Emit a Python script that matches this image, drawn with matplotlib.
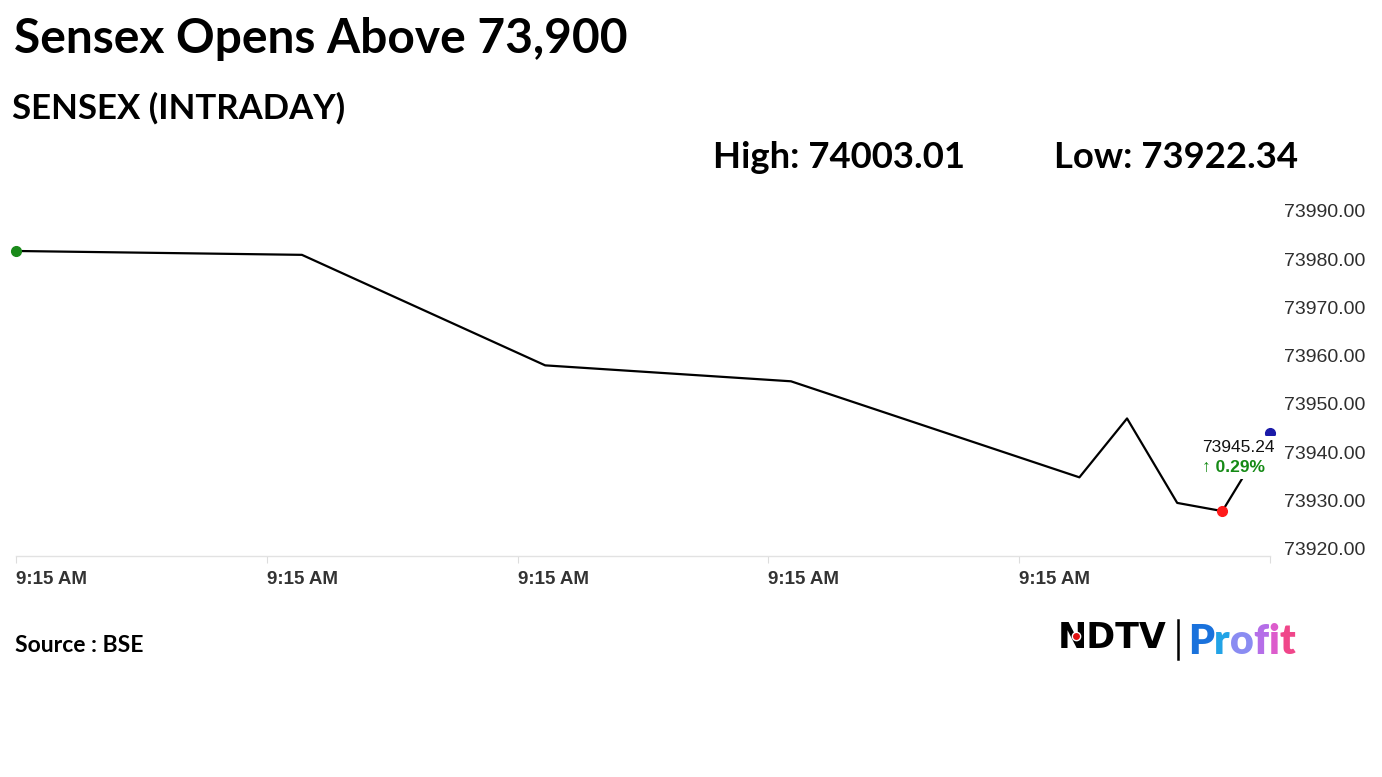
import matplotlib.pyplot as plt
from matplotlib.lines import Line2D

# Intraday Sensex ticks (seconds after 9:15 AM) and index values
seconds = [0, 11.4, 21.1, 30.9, 42.4, 44.3, 46.3, 48.1, 50.0]
sensex = [73981.7, 73980.9, 73958.0, 73954.7, 73934.8, 73947.0, 73929.5, 73927.8, 73944.0]

tick_seconds = [0, 10, 20, 30, 40, 50]
tick_labels = ["9:15 AM", "9:15 AM", "9:15 AM", "9:15 AM", "9:15 AM", ""]
y_ticks = [73920, 73930, 73940, 73950, 73960, 73970, 73980, 73990]

day_high = "74003.01"
day_low = "73922.34"
last_price = "73945.24"
last_change = "0.29%"

W, H = 1382, 777


def fx(px):
    return px / W


def fy(py):
    return 1 - py / H


fig = plt.figure(figsize=(W / 100, H / 100), dpi=100)
fig.patch.set_facecolor("white")

# Plot area in pixels: left 16, right 1270, top 195, bottom 556
ax = fig.add_axes([fx(16), fy(556), fx(1270) - fx(16), fy(195) - fy(556)])
ax.set_xlim(0, 50)
ax.set_ylim(73918.5, 73993.3)

ax.plot(seconds, sensex, color="black", linewidth=1.6, zorder=2)

# Opening point, day's low point and latest point
low_index = sensex.index(min(sensex))
ax.plot(seconds[0], sensex[0], "o", color="#1a8a1a", markersize=7, clip_on=False, zorder=3)
ax.plot(seconds[low_index], sensex[low_index], "o", color="#ff1a1a", markersize=7, clip_on=False, zorder=3)
ax.plot(seconds[-1], sensex[-1], "o", color="#1a1aa8", markersize=7, clip_on=False, zorder=3)

# Latest price label with a white box hiding the line underneath
ax.text(
    seconds[-1] - 1.25, sensex[-1] - 3.0, last_price,
    ha="center", va="center", fontsize=12.5, color="#111111",
    family="Liberation Sans", zorder=5,
    bbox=dict(facecolor="white", edgecolor="none", pad=2.5),
)
ax.text(
    seconds[-1] - 1.45, sensex[-1] - 7.2, "\u2191 " + last_change,
    ha="center", va="center", fontsize=12.5, color="#158a15",
    family=["Liberation Sans", "DejaVu Sans"], fontweight="bold", zorder=5,
    bbox=dict(facecolor="white", edgecolor="none", pad=2.5),
)

# Axes styling
for side in ["top", "left", "right"]:
    ax.spines[side].set_visible(False)
ax.spines["bottom"].set_color("#e2e2e2")
ax.spines["bottom"].set_linewidth(1.0)

ax.set_xticks(tick_seconds)
ax.set_xticklabels(tick_labels)
ax.tick_params(axis="x", length=5, color="#dddddd", pad=6, labelsize=13.5, labelcolor="#333333")
for label in ax.get_xticklabels():
    label.set_horizontalalignment("left")
    label.set_fontweight("bold")
    label.set_family("Liberation Sans")

ax.yaxis.tick_right()
ax.set_yticks(y_ticks)
ax.set_yticklabels(["{:.2f}".format(v) for v in y_ticks])
ax.tick_params(axis="y", length=0, pad=10, labelsize=14, labelcolor="#2e2e2e")
for label in ax.get_yticklabels():
    label.set_family("Liberation Sans")

# Headings
fig.text(fx(14), fy(53), "Sensex Opens Above 73,900", fontsize=34.5, fontweight="bold",
         family="Lato", va="baseline", ha="left", color="black")
fig.text(fx(12), fy(119), "SENSEX (INTRADAY)", fontsize=25, fontweight="bold",
         family="Lato", va="baseline", ha="left", color="black")
fig.text(fx(713), fy(168), "High: " + day_high, fontsize=26.3, fontweight="bold",
         family="Lato", va="baseline", ha="left", color="black")
fig.text(fx(1054), fy(168), "Low: " + day_low, fontsize=26.3, fontweight="bold",
         family="Lato", va="baseline", ha="left", color="black")
fig.text(fx(15), fy(652), "Source : BSE", fontsize=16.5, fontweight="bold",
         family="Lato", va="baseline", ha="left", color="black")

# NDTV Profit logo
fig.text(fx(1058), fy(648), "NDTV", fontsize=25, fontweight="bold",
         family="DejaVu Sans", va="baseline", ha="left", color="black")
fig.add_artist(Line2D([fx(1076)], [fy(636)], transform=fig.transFigure,
                      marker="o", markersize=6, color="#e01010",
                      markeredgecolor="white", markeredgewidth=1.0, zorder=6))
fig.add_artist(Line2D([fx(1178), fx(1178)], [fy(620), fy(659)], transform=fig.transFigure,
                      color="black", linewidth=1.8))

# "Profit" with a blue to pink gradient, one letter after another
profit_colors = ["#1a72dc", "#22a3e6", "#8a8cf2", "#b56ee8", "#dc5ccc", "#f0468a"]
anchor = fig.text(fx(1188), fy(654), "P", fontsize=29.5, fontweight="heavy",
                  family="Lato", va="baseline", ha="left", color=profit_colors[0])
for letter, color in zip("rofit", profit_colors[1:]):
    anchor = ax.annotate(letter, xy=(1, 0), xycoords=anchor,
                         va="bottom", ha="left", fontsize=29.5, fontweight="heavy",
                         family="Lato", color=color, annotation_clip=False)

fig.savefig("out.png", dpi=100, facecolor="white")
